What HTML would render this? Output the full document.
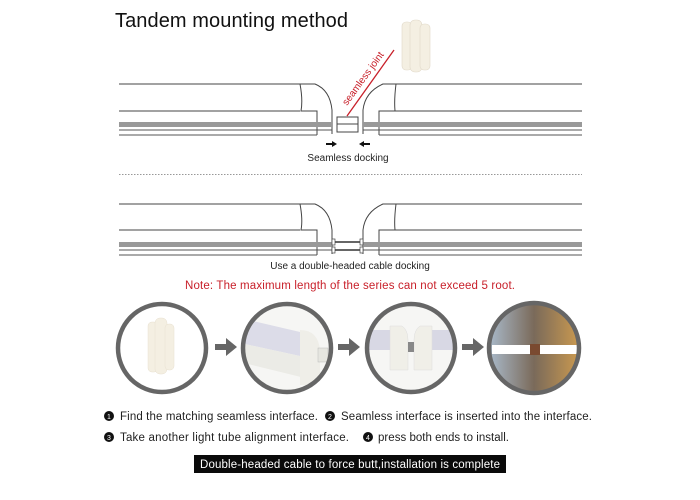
<!DOCTYPE html>
<html><head><meta charset="utf-8"><style>
body{margin:0;background:#fff;width:700px;height:500px;overflow:hidden}
svg{display:block}
text{font-family:"Liberation Sans",sans-serif}
</style></head><body>
<svg width="700" height="500" viewBox="0 0 700 500">
<defs>
<linearGradient id="g4b" x1="0" x2="1"><stop offset="0" stop-color="#a8b8c8"/><stop offset="0.5" stop-color="#7a6a5a"/><stop offset="1" stop-color="#c89850"/></linearGradient>
<clipPath id="c2"><circle cx="287" cy="348" r="43"/></clipPath>
<clipPath id="c3"><circle cx="411" cy="348" r="43"/></clipPath>
</defs>
<text x="115" y="27" font-size="20" fill="#111" textLength="233">Tandem mounting method</text>
<g fill="#f4efe2" stroke="#e0d8c8" stroke-width="0.6">
<rect x="402" y="22" width="10" height="48" rx="4"/>
<rect x="410" y="20" width="12" height="52" rx="5"/>
<rect x="420" y="24" width="10" height="46" rx="4"/>
</g>
<line x1="347" y1="116" x2="394" y2="50" stroke="#c8202a" stroke-width="1.3"/>
<text x="0" y="0" font-size="10" fill="#c8202a" transform="translate(347,106) rotate(-54)">seamless joint</text>
<g stroke="#444" stroke-width="1" fill="none">
<line x1="119" y1="84" x2="298" y2="84"/><line x1="119" y1="111" x2="300" y2="111"/>
<line x1="396" y1="84" x2="582" y2="84"/><line x1="395" y1="111" x2="582" y2="111"/>
<path d="M298 84 L315 84 Q330 90 332 110 L332 134 M300 84 Q303 100 301 111 L317 111 L317 135"/>
<path d="M396 84 L383 84 Q365 92 363 110 L363 134 M396 84 Q394 100 395 111 L379 111 L379 135"/>
<rect x="337" y="117" width="21" height="15"/><line x1="337" y1="124" x2="358" y2="124"/>
<line x1="119" y1="204" x2="298" y2="204"/><line x1="119" y1="230" x2="300" y2="230"/>
<line x1="396" y1="204" x2="582" y2="204"/><line x1="395" y1="230" x2="582" y2="230"/>
<path d="M298 204 L315 204 Q330 210 332 230 L332 254 M300 204 Q303 220 301 230 L317 230 L317 255"/>
<path d="M396 204 L383 204 Q365 212 363 230 L363 254 M396 204 Q394 220 395 230 L379 230 L379 255"/>
</g>
<g fill="#999"><rect x="119" y="122" width="213" height="5"/><rect x="363" y="122" width="219" height="5"/>
<rect x="119" y="242" width="213" height="5"/><rect x="363" y="242" width="219" height="5"/></g>
<g stroke="#555" stroke-width="1"><line x1="119" y1="130" x2="332" y2="130"/><line x1="363" y1="130" x2="582" y2="130"/>
<line x1="119" y1="135" x2="317" y2="135"/><line x1="379" y1="135" x2="582" y2="135"/>
<line x1="119" y1="250" x2="332" y2="250"/><line x1="363" y1="250" x2="582" y2="250"/>
<line x1="119" y1="255" x2="317" y2="255"/><line x1="379" y1="255" x2="582" y2="255"/></g>
<g stroke="#333" stroke-width="1.5"><line x1="334" y1="242" x2="361" y2="242"/><line x1="334" y1="250" x2="361" y2="250"/></g>
<g fill="#fff" stroke="#444" stroke-width="0.7"><rect x="332" y="239" width="3" height="6"/><rect x="360" y="239" width="3" height="6"/><rect x="332" y="247" width="3" height="6"/><rect x="360" y="247" width="3" height="6"/></g>
<path d="M326 143 h6 v-2 l5 3 l-5 3 v-2 h-6z" fill="#111"/>
<path d="M370 143 h-6 v-2 l-5 3 l5 3 v-2 h6z" fill="#111"/>
<text x="348" y="161" font-size="10" fill="#222" text-anchor="middle">Seamless docking</text>
<line x1="119" y1="174.5" x2="582" y2="174.5" stroke="#777" stroke-width="0.8" stroke-dasharray="1.5,1.5"/>
<text x="350" y="269" font-size="10" fill="#222" text-anchor="middle">Use a double-headed cable docking</text>
<text x="185" y="289" font-size="11.5" fill="#c8202a" textLength="330">Note: The maximum length of the series can not exceed 5 root.</text>
<circle cx="162" cy="348" r="44" fill="#fff"/>
<g fill="#f4efe2" stroke="#e8e0d0" stroke-width="0.5"><rect x="148" y="322" width="10" height="50" rx="4"/><rect x="155" y="318" width="12" height="56" rx="5"/><rect x="165" y="324" width="9" height="46" rx="4"/></g>
<circle cx="287" cy="348" r="44" fill="#f6f6f4"/>
<g clip-path="url(#c2)">
<path d="M240 318 L300 332 L300 356 L240 343Z" fill="#dcdce8"/>
<path d="M240 343 L300 356 L305 378 L240 362Z" fill="#ebebe6"/>
<path d="M300 330 Q318 330 320 350 L320 385 L300 385Z" fill="#efeee8"/>
<rect x="318" y="348" width="10" height="14" fill="#e6e6e0" stroke="#bbb" stroke-width="0.5"/>
</g>
<circle cx="411" cy="348" r="44" fill="#f6f6f4"/>
<g clip-path="url(#c3)">
<rect x="365" y="330" width="28" height="20" fill="#d8d8e4"/><rect x="430" y="330" width="30" height="20" fill="#d8d8e4"/>
<path d="M390 326 L402 326 Q408 330 408 340 L408 370 L390 370Z" fill="#f0efe8" stroke="#ddd" stroke-width="0.5"/>
<path d="M432 326 L420 326 Q414 330 414 340 L414 370 L432 370Z" fill="#f0efe8" stroke="#ddd" stroke-width="0.5"/>
<rect x="408" y="342" width="6" height="10" fill="#888"/>
</g>
<circle cx="534" cy="348" r="44" fill="url(#g4b)"/>
<rect x="492" y="345" width="38" height="9" fill="#fff"/><rect x="540" y="345" width="37" height="9" fill="#fff"/>
<rect x="530" y="344" width="10" height="11" fill="#7a4a30"/>
<g fill="none" stroke="#666" stroke-width="4.5">
<circle cx="162" cy="348" r="44"/><circle cx="287" cy="348" r="44"/><circle cx="411" cy="348" r="44"/><circle cx="534" cy="348" r="45"/></g>
<g fill="#666">
<path d="M215 344 h11 v-6 l11 9 l-11 9 v-6 h-11z"/>
<path d="M338 344 h11 v-6 l11 9 l-11 9 v-6 h-11z"/>
<path d="M462 344 h11 v-6 l11 9 l-11 9 v-6 h-11z"/>
</g>
<g font-size="11.5" fill="#222">
<circle cx="109" cy="416" r="5" fill="#111"/><text x="109" y="419" font-size="7" fill="#fff" text-anchor="middle">1</text>
<text x="120" y="420" textLength="198">Find the matching seamless interface.</text>
<circle cx="330" cy="416" r="5" fill="#111"/><text x="330" y="419" font-size="7" fill="#fff" text-anchor="middle">2</text>
<text x="341" y="420" textLength="251">Seamless interface is inserted into the interface.</text>
<circle cx="109" cy="437" r="5" fill="#111"/><text x="109" y="440" font-size="7" fill="#fff" text-anchor="middle">3</text>
<text x="120" y="441" textLength="229">Take another light tube alignment interface.</text>
<circle cx="368" cy="437" r="5" fill="#111"/><text x="368" y="440" font-size="7" fill="#fff" text-anchor="middle">4</text>
<text x="378" y="441" textLength="131">press both ends to install.</text>
</g>
<rect x="194" y="455" width="312" height="18" fill="#0a0a0a"/>
<text x="350" y="468" font-size="11.5" fill="#fff" text-anchor="middle" textLength="300">Double-headed cable to force butt,installation is complete</text>
</svg>
</body></html>
